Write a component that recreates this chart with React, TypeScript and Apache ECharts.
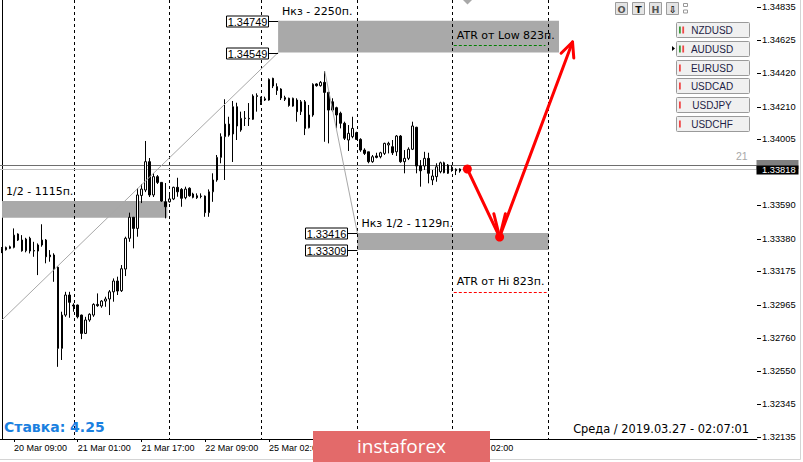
import React, { useEffect, useRef } from "react";
import * as echarts from "echarts";

const W = 803;
const H = 462;

// H1 candles, first bar = 20 Mar 06:00
const opens = [
  1.33319, 1.33311, 1.3332, 1.33326, 1.3341, 1.33372, 1.33305, 1.33383, 1.33306, 1.33303,
  1.33341, 1.33372, 1.33278, 1.33278, 1.33201, 1.32692, 1.32901, 1.33027, 1.32964, 1.32964,
  1.32901, 1.32786, 1.3287, 1.32901, 1.32968, 1.32958, 1.32989, 1.33002, 1.33047, 1.33115,
  1.33054, 1.3319, 1.33383, 1.33515, 1.33445, 1.33652, 1.33686, 1.33864, 1.33655, 1.3377,
  1.33734, 1.33612, 1.33612, 1.3363, 1.33703, 1.3369, 1.33638, 1.33697, 1.33661, 1.3365,
  1.33648, 1.33648, 1.33544, 1.33675, 1.33749, 1.33891, 1.34021, 1.341, 1.34038, 1.34209,
  1.34063, 1.34135, 1.34136, 1.3413, 1.34273, 1.34237, 1.34251, 1.34251, 1.34387, 1.34335,
  1.3432, 1.34266, 1.34262, 1.34213, 1.34251, 1.34178, 1.3424, 1.34077, 1.34157, 1.34352,
  1.34341, 1.34362, 1.34299, 1.3424, 1.34203, 1.34168, 1.34105, 1.34, 1.34021, 1.34046,
  1.34004, 1.33937, 1.33926, 1.33864, 1.339, 1.33895, 1.33916, 1.33969, 1.33958, 1.33926,
  1.34025, 1.33864, 1.33885, 1.33942, 1.3408, 1.33837, 1.33837, 1.33885, 1.33749, 1.3377,
  1.33801, 1.33857, 1.33791, 1.33829, 1.33816, 1.33805,
];
const highs = [
  1.33328, 1.33331, 1.33337, 1.33445, 1.33414, 1.33403, 1.33386, 1.33393, 1.33361, 1.33351,
  1.33471, 1.33378, 1.33309, 1.33289, 1.33209, 1.32922, 1.33047, 1.33047, 1.32975, 1.32967,
  1.32904, 1.3289, 1.32912, 1.32975, 1.33037, 1.32995, 1.33016, 1.33058, 1.33131, 1.33142,
  1.33215, 1.33393, 1.33544, 1.33517, 1.33698, 1.33724, 1.33994, 1.33887, 1.33793, 1.3378,
  1.33736, 1.3373, 1.33661, 1.33707, 1.33763, 1.33698, 1.33707, 1.33703, 1.33669, 1.33665,
  1.33665, 1.33652, 1.3369, 1.33791, 1.33906, 1.34042, 1.34256, 1.34146, 1.34245, 1.34234,
  1.34178, 1.34182, 1.34232, 1.34287, 1.34293, 1.34272, 1.34272, 1.34387, 1.34391, 1.34356,
  1.34325, 1.34278, 1.34266, 1.34266, 1.34262, 1.34251, 1.34251, 1.3422, 1.34356, 1.34356,
  1.3437, 1.34433, 1.34303, 1.34262, 1.34209, 1.34178, 1.34115, 1.34094, 1.34146, 1.34052,
  1.34011, 1.33948, 1.33926, 1.33906, 1.3392, 1.33926, 1.33983, 1.33989, 1.34, 1.34031,
  1.34031, 1.33937, 1.33954, 1.34115, 1.34083, 1.33874, 1.33926, 1.3392, 1.33812, 1.33854,
  1.33864, 1.33864, 1.33849, 1.33843, 1.33822, 1.33822,
];
const lows = [
  1.3329, 1.33306, 1.33315, 1.3332, 1.33366, 1.33299, 1.33295, 1.33288, 1.33267, 1.33152,
  1.3333, 1.33226, 1.33236, 1.3311, 1.32576, 1.32619, 1.3289, 1.32884, 1.32922, 1.3288,
  1.3275, 1.32782, 1.32859, 1.3289, 1.32953, 1.32947, 1.32953, 1.32901, 1.32985, 1.33027,
  1.33046, 1.33146, 1.33361, 1.3332, 1.33393, 1.33604, 1.33673, 1.33642, 1.33642, 1.33724,
  1.33612, 1.33508, 1.33607, 1.33623, 1.33644, 1.33581, 1.33628, 1.33644, 1.33634, 1.3363,
  1.33634, 1.33518, 1.33518, 1.33612, 1.33738, 1.33854, 1.33749, 1.34021, 1.33862, 1.34,
  1.34052, 1.34088, 1.34088, 1.34126, 1.34178, 1.3422, 1.34245, 1.34247, 1.34326, 1.34283,
  1.34251, 1.34245, 1.34209, 1.34209, 1.34115, 1.34157, 1.34031, 1.34073, 1.34146, 1.34335,
  1.34335, 1.33989, 1.33979, 1.34178, 1.34073, 1.34073, 1.34, 1.33931, 1.34011, 1.34,
  1.33926, 1.33906, 1.33854, 1.33857, 1.33885, 1.33885, 1.33906, 1.33916, 1.33906, 1.339,
  1.33857, 1.33791, 1.33874, 1.33937, 1.33791, 1.33707, 1.33812, 1.33728, 1.33717, 1.33738,
  1.33791, 1.33791, 1.33787, 1.33801, 1.3378, 1.33795,
];
const closes = [
  1.33297, 1.33326, 1.3333, 1.33403, 1.33372, 1.33305, 1.33378, 1.33303, 1.33303, 1.33341,
  1.33372, 1.33267, 1.33267, 1.3319, 1.32692, 1.32901, 1.33027, 1.32981, 1.32958, 1.3289,
  1.32786, 1.3287, 1.32906, 1.32968, 1.3296, 1.32989, 1.33002, 1.33047, 1.33115, 1.33052,
  1.33192, 1.33383, 1.33515, 1.33445, 1.33655, 1.33692, 1.33864, 1.33655, 1.3377, 1.33734,
  1.33617, 1.33581, 1.3363, 1.33703, 1.33675, 1.33634, 1.33692, 1.3365, 1.3364, 1.33638,
  1.33646, 1.33544, 1.33675, 1.33749, 1.33891, 1.34021, 1.341, 1.34031, 1.34209, 1.34088,
  1.34136, 1.34138, 1.34133, 1.34276, 1.34279, 1.34262, 1.34259, 1.34381, 1.34339, 1.34311,
  1.34264, 1.34256, 1.34217, 1.34262, 1.34178, 1.3424, 1.34073, 1.34157, 1.3435, 1.34341,
  1.34362, 1.34299, 1.34188, 1.34188, 1.34157, 1.34105, 1.34011, 1.34042, 1.34073, 1.34004,
  1.33937, 1.33916, 1.33864, 1.33895, 1.33891, 1.3392, 1.33979, 1.33979, 1.3392, 1.34025,
  1.33864, 1.33885, 1.33942, 1.34088, 1.33837, 1.33807, 1.33885, 1.33791, 1.33774, 1.33832,
  1.33857, 1.33795, 1.33843, 1.33812, 1.33807, 1.33818,
];

const MONTHS = ["Jan", "Feb", "Mar", "Apr", "May", "Jun", "Jul", "Aug", "Sep", "Oct", "Nov", "Dec"];
const firstBarUtc = Date.UTC(2019, 2, 20, 6);
const categoryCount = 190;
function buildCategories(n: number): string[] {
  const out: string[] = [];
  let t = firstBarUtc;
  while (out.length < n) {
    const d = new Date(t);
    const wd = d.getUTCDay();
    const h = d.getUTCHours();
    const closed = wd === 6 || wd === 0 || (wd === 5 && h === 23);
    if (!closed) {
      out.push(`${d.getUTCDate()} ${MONTHS[d.getUTCMonth()]} ${String(h).padStart(2, "0")}:00`);
    }
    t += 3600000;
  }
  return out;
}
const categories = buildCategories(categoryCount);
const timeLabelIndex = [3, 19, 35, 51, 67, 83, 99, 115];
const daySeparators = [18, 42, 65, 89, 113, 137];

const priceTicks = [
  1.34835, 1.34625, 1.3442, 1.3421, 1.34005, 1.3359, 1.3338, 1.33175, 1.32965, 1.3276, 1.3255,
  1.32345, 1.32135,
];
const priceMin = 1.32123;
const priceMax = 1.34879;
const upperLine = 1.33841;
const bidPrice = 1.33818;

const zones = [
  { from: 69.3, to: 139.8, hi: 1.34749, lo: 1.34549, label: "Нкз - 2250п.", tags: true },
  { from: 89.2, to: 137.2, hi: 1.33416, lo: 1.33309, label: "Нкз 1/2 - 1129п.", tags: true },
  { from: 0, to: 41.5, hi: 1.33617, lo: 1.33512, label: "1/2 - 1115п.", tags: false },
];
const atrLevels = [
  { from: 113.4, to: 136.4, price: 1.34596, color: "#008000", label: "ATR от Low 823п." },
  { from: 113.4, to: 136.7, price: 1.33047, color: "#ff0000", label: "ATR от Hi 823п." },
];
const trendLines = [
  { x1: 0, p1: 1.3287, x2: 69.3, p2: 1.34549 },
  { x1: 81, p1: 1.34433, x2: 89.2, p2: 1.33416 },
];
const arrowPoints = [
  { x: 116.8, price: 1.33818 },
  { x: 124.9, price: 1.33391 },
  { x: 143.2, price: 1.34615 },
];

const pairs = ["NZDUSD", "AUDUSD", "EURUSD", "USDCAD", "USDJPY", "USDCHF"];
const pairSignals = [["#3a9a3a", "#f04848"], ["#3a9a3a", "#f04848"], ["#f04848"], ["#f04848"], ["#f04848"], ["#f04848"]];
const toolButtons = ["O", "T", "H", "⇩"];

const AX_FONT = "Liberation Sans";
const TXT_FONT = "DejaVu Sans";

function crisp(v: number) {
  return Math.round(v) + 0.5;
}

function renderBackground(_p: any, api: any) {
  const children: any[] = [];
  const top = api.coord([0, priceMax])[1];
  const bottom = api.coord([0, priceMin])[1];
  const left = api.coord([-0.5, priceMin])[0];
  const right = api.coord([189.5, priceMin])[0];
  zones.forEach((z) => {
    const a = api.coord([z.from, z.hi]);
    const b = api.coord([z.to, z.lo]);
    children.push({
      type: "rect",
      shape: { x: a[0], y: a[1], width: b[0] - a[0], height: b[1] - a[1] },
      style: { fill: "#a9a9a9" },
    });
  });
  daySeparators.forEach((i) => {
    const x = crisp(api.coord([i, priceMin])[0]);
    children.push({
      type: "line",
      shape: { x1: x, y1: top, x2: x, y2: bottom },
      style: { stroke: "#000", lineWidth: 1, lineDash: [3, 3] },
    });
  });
  const yU = crisp(api.coord([0, upperLine])[1]);
  const yB = crisp(api.coord([0, bidPrice])[1]);
  children.push({ type: "line", shape: { x1: left, y1: yB, x2: right, y2: yB }, style: { stroke: "#c0c0c0", lineWidth: 1 } });
  children.push({ type: "line", shape: { x1: left, y1: yU, x2: right, y2: yU }, style: { stroke: "#6e6e6e", lineWidth: 1 } });
  return { type: "group", children };
}

function renderOverlay(_p: any, api: any) {
  const children: any[] = [];
  const right = api.coord([189.5, priceMin])[0];
  // price-axis ticks
  priceTicks.forEach((p) => {
    const yy = crisp(api.coord([0, p])[1]);
    children.push({ type: "line", shape: { x1: right, y1: yy, x2: right + 4, y2: yy }, style: { stroke: "#000", lineWidth: 1 } });
  });
  trendLines.forEach((l) => {
    const a = api.coord([l.x1, l.p1]);
    const b = api.coord([l.x2, l.p2]);
    children.push({ type: "line", shape: { x1: a[0], y1: a[1], x2: b[0], y2: b[1] }, style: { stroke: "#a8a8a8", lineWidth: 1 } });
  });
  zones.forEach((z) => {
    const a = api.coord([z.from, z.hi]);
    const b = api.coord([z.to, z.lo]);
    children.push({
      type: "text",
      x: a[0] + 4,
      y: a[1] - 9.5,
      style: { text: z.label, fill: "#000", fontSize: 11, fontFamily: TXT_FONT, align: "left", verticalAlign: "middle" },
    });
    if (z.tags) {
      [
        { y: a[1], p: z.hi },
        { y: b[1], p: z.lo },
      ].forEach((t) => {
        const yy = crisp(t.y);
        const bx = Math.round(a[0]) - 51.5;
        children.push({ type: "line", shape: { x1: bx + 42, y1: yy, x2: a[0], y2: yy }, style: { stroke: "#000", lineWidth: 1 } });
        children.push({
          type: "rect",
          shape: { x: bx, y: yy - 5.5, width: 42, height: 11 },
          style: { fill: "#fff", stroke: "#000", lineWidth: 1 },
        });
        children.push({
          type: "text",
          x: bx + 21,
          y: yy + 0.5,
          style: { text: t.p.toFixed(5), fill: "#000", fontSize: 11, fontFamily: AX_FONT, align: "center", verticalAlign: "middle" },
        });
      });
    }
  });
  atrLevels.forEach((l) => {
    const a = api.coord([l.from, l.price]);
    const b = api.coord([l.to, l.price]);
    const yy = crisp(a[1]);
    children.push({ type: "line", shape: { x1: a[0], y1: yy, x2: b[0], y2: yy }, style: { stroke: l.color, lineWidth: 1, lineDash: [3, 2] } });
    children.push({
      type: "text",
      x: a[0] + 3,
      y: a[1] - 10,
      style: { text: l.label, fill: "#000", fontSize: 11, fontFamily: TXT_FONT, align: "left", verticalAlign: "middle" },
    });
  });
  // red arrow
  const pts = arrowPoints.map((p) => api.coord([p.x, p.price]));
  children.push({
    type: "polyline",
    shape: { points: pts },
    style: { stroke: "#ff0000", lineWidth: 3, fill: null, lineJoin: "round", lineCap: "round" },
  });
  const barbs = (tip: number[], backAngle: number, spread: number, len: number) => {
    [-spread, spread].forEach((s) => {
      const ang = ((backAngle + s) * Math.PI) / 180;
      children.push({
        type: "line",
        shape: { x1: tip[0], y1: tip[1], x2: tip[0] + len * Math.cos(ang), y2: tip[1] + len * Math.sin(ang) },
        style: { stroke: "#ff0000", lineWidth: 3, lineCap: "round" },
      });
    });
  };
  barbs(pts[1], -90, 14, 24);
  const back2 = (Math.atan2(pts[1][1] - pts[2][1], pts[1][0] - pts[2][0]) * 180) / Math.PI;
  barbs(pts[2], back2, 25, 16);
  children.push({ type: "circle", shape: { cx: pts[0][0], cy: pts[0][1], r: 4.5 }, style: { fill: "#ff0000" } });
  children.push({ type: "circle", shape: { cx: pts[1][0], cy: pts[1][1], r: 4.5 }, style: { fill: "#ff0000" } });

  // price labels on the axis (the grey one is mostly hidden behind the black bid label)
  const yUp = Math.round(api.coord([0, upperLine])[1]);
  const yBid = Math.round(api.coord([0, bidPrice])[1]) + 1;
  children.push({ type: "rect", shape: { x: right - 0.5, y: yUp - 5, width: 42, height: 9 }, style: { fill: "#808080" } });
  children.push({ type: "rect", shape: { x: right - 0.5, y: yBid - 4.5, width: 42, height: 9 }, style: { fill: "#000" } });
  children.push({
    type: "text",
    x: right + 5,
    y: yBid,
    style: { text: bidPrice.toFixed(5), fill: "#fff", fontSize: 9.3, fontFamily: AX_FONT, align: "left", verticalAlign: "middle" },
  });
  return { type: "group", children };
}

function buildGraphic() {
  const g: any[] = [];
  // window border
  g.push({ type: "line", shape: { x1: 800.5, y1: 0, x2: 800.5, y2: 459.5 }, style: { stroke: "#d4d4d4", lineWidth: 1 } });
  g.push({ type: "line", shape: { x1: 0, y1: 459.5, x2: 800.5, y2: 459.5 }, style: { stroke: "#d4d4d4", lineWidth: 1 } });
  // shift marker
  g.push({ type: "polygon", shape: { points: [[463, 0], [472, 0], [467.5, 4.5]] }, style: { fill: "#a8a8a8" } });
  // tool buttons
  const bx = [615.5, 632.5, 649.5, 666.5];
  toolButtons.forEach((t, k) => {
    g.push({ type: "rect", shape: { x: bx[k], y: 2.5, width: 12, height: 12 }, style: { fill: "#e4e4e4", stroke: "#9c9c9c", lineWidth: 1 } });
    g.push({
      type: "text",
      x: bx[k] + 6,
      y: 9,
      style: { text: t, fill: k === 1 || k === 3 ? "#111" : "#555", fontSize: 9.5, fontWeight: "bold", fontFamily: TXT_FONT, align: "center", verticalAlign: "middle" },
    });
  });
  g.push({ type: "rect", shape: { x: 683.5, y: 3.5, width: 4, height: 3 }, style: { fill: "#fff", stroke: "#999", lineWidth: 1 } });
  g.push({ type: "rect", shape: { x: 683.5, y: 10, width: 4, height: 3 }, style: { fill: "#fff", stroke: "#999", lineWidth: 1 } });
  // pair buttons
  pairs.forEach((p, k) => {
    const y = Math.round(21.7 + k * 18.9) + 0.5;
    g.push({ type: "rect", shape: { x: 676.5, y, width: 73, height: 15, r: 1 }, style: { fill: "#f0f0f0", stroke: "#9a9a9a", lineWidth: 1 } });
    pairSignals[k].forEach((c, j) => {
      g.push({ type: "rect", shape: { x: 679 + j * 3.3, y: y + 4, width: 1.8, height: 7 }, style: { fill: c } });
    });
    g.push({
      type: "text",
      x: 712,
      y: y + 7.8,
      style: { text: p, fill: "#1e1e46", fontSize: 10, fontFamily: AX_FONT, align: "center", verticalAlign: "middle" },
    });
  });
  g.push({ type: "polygon", shape: { points: [[672, 46], [675, 48.5], [672, 51]] }, style: { fill: "#000" } });
  // misc texts
  g.push({ type: "text", x: 736, y: 156, style: { text: "21", fill: "#a8a8a8", fontSize: 10.5, fontFamily: AX_FONT, align: "left", verticalAlign: "middle" } });
  g.push({
    type: "text",
    x: 4,
    y: 427,
    style: { text: "Ставка: 4.25", fill: "#1a80e0", fontSize: 14, fontWeight: "bold", fontFamily: TXT_FONT, align: "left", verticalAlign: "middle" },
  });
  g.push({
    type: "text",
    x: 749,
    y: 429,
    style: { text: "Среда / 2019.03.27 - 02:07:01", fill: "#000", fontSize: 11.4, fontFamily: TXT_FONT, align: "right", verticalAlign: "middle" },
  });
  // logo
  g.push({ type: "rect", shape: { x: 313, y: 431, width: 177, height: 31 }, style: { fill: "#e36a6a" } });
  g.push({
    type: "text",
    x: 401.5,
    y: 446,
    style: { text: "instaforex", fill: "#fff", fontSize: 19, fontFamily: "Open Sans", align: "center", verticalAlign: "middle" },
  });
  return g.map((e) => ({ ...e, z: 100, silent: true }));
}

export default function App() {
  const ref = useRef<HTMLDivElement>(null);
  useEffect(() => {
    document.body.style.margin = "0";
    const chart = echarts.init(ref.current!, null, { renderer: "svg", width: W, height: H });
    const candles = opens.map((o, i) => [o, closes[i], lows[i], highs[i]]);
    // labels that sit fully under the logo are not visible in the original
    const isLabel = (i: number) => timeLabelIndex.includes(i) && i !== 83 && i !== 99;
    const isTick = (i: number) => timeLabelIndex.includes(i);
    chart.setOption({
      animation: false,
      backgroundColor: "#fff",
      grid: { left: -2, right: 46, top: 0, bottom: 23, containLabel: false },
      xAxis: [
        {
          type: "category",
          data: categories,
          boundaryGap: true,
          axisLine: { show: true, lineStyle: { color: "#000", width: 1 } },
          axisTick: { show: true, alignWithLabel: true, interval: isTick, length: 3, lineStyle: { color: "#000" } },
          axisLabel: { interval: isLabel, align: "left", fontSize: 9, fontFamily: AX_FONT, color: "#000", margin: 4 },
          splitLine: { show: false },
        },
        { type: "value", min: -0.5, max: 189.5, show: false },
      ],
      yAxis: {
        type: "value",
        position: "right",
        min: priceMin,
        max: priceMax,
        axisLine: { show: true, lineStyle: { color: "#000", width: 1 } },
        axisTick: { show: false },
        axisLabel: {
          customValues: priceTicks,
          formatter: (v: number) => v.toFixed(5),
          fontSize: 9.3,
          fontFamily: AX_FONT,
          color: "#000",
          margin: 5,
        },
        splitLine: { show: false },
      },
      series: [
        {
          type: "custom",
          xAxisIndex: 1,
          yAxisIndex: 0,
          z: 1,
          silent: true,
          clip: false,
          data: [[0, 1.335]],
          renderItem: renderBackground,
        },
        {
          type: "candlestick",
          xAxisIndex: 0,
          yAxisIndex: 0,
          z: 2,
          barWidth: 2,
          silent: true,
          data: candles,
          itemStyle: { color: "#fff", color0: "#000", borderColor: "#000", borderColor0: "#000", borderWidth: 1 },
        },
        {
          type: "custom",
          xAxisIndex: 1,
          yAxisIndex: 0,
          z: 5,
          silent: true,
          clip: false,
          data: [[0, 1.335]],
          renderItem: renderOverlay,
        },
      ],
      graphic: { elements: buildGraphic() },
    });
    return () => chart.dispose();
  }, []);
  return <div ref={ref} style={{ width: W, height: H, position: "fixed", left: 0, top: 0, background: "#fff" }} />;
}
